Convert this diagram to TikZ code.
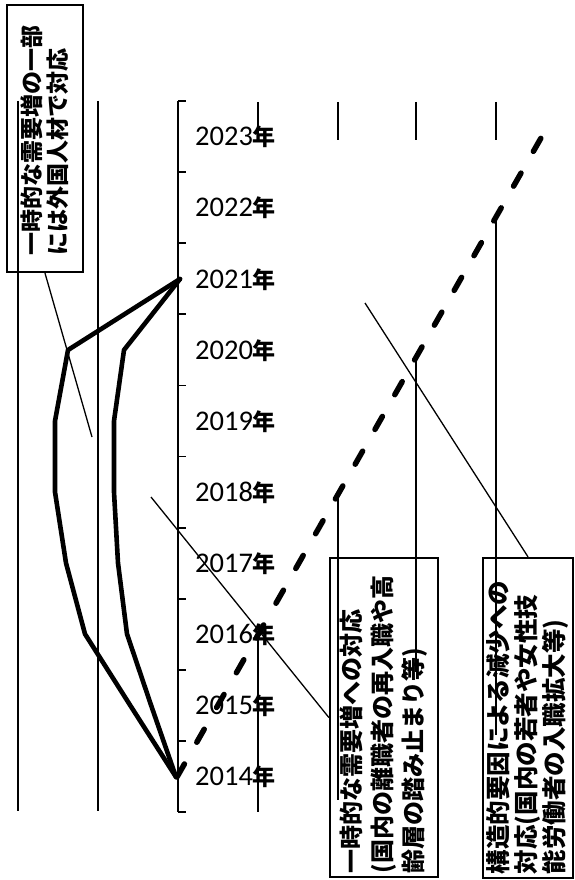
\documentclass[tikz,border=0pt]{standalone}
\usepackage{fontspec}
\setmainfont{Carlito}
\newfontfamily\cjk{Noto Sans CJK JP}
\begin{document}
\begin{tikzpicture}[x=1pt,y=-1pt,
	grid/.style={line width=1.8pt},
	thread/.style={line width=1.3pt},
	band/.style={line width=4.6pt,line join=round,line cap=round},
	memo/.style={draw,line width=2.3pt,rotate=90,align=left,inner ysep=0pt}]
	\useasboundingbox (0,0) rectangle (574,880);
	\draw[grid] (18,101) -- (18,811);
	\draw[grid] (98,101) -- (98,811);
	\draw[grid] (178,101) -- (178,812);
	\foreach \t in {0,...,10} \draw[grid] (178,{812-71.1*\t}) -- ++(8,0);
	\foreach \k [evaluate=\k as \yr using int(2014+\k)] in {0,...,9}
		\node[anchor=west,inner sep=0pt,font=\fontsize{28.5}{30}\selectfont] (y\yr) at (195,{777-71.1*\k}) {\yr{\cjk\bfseries\fontsize{23}{23}\selectfont 年}};
	\foreach \x in {258,338,416,496} \draw[grid] (\x,102) -- (\x,140);
	\coordinate (d0) at (177,777);
	\coordinate (d1) at (541,138);
	\draw[line width=5.5pt,line cap=round,dash pattern=on 15pt off 25pt] (d0) -- (d1);
	\foreach \x/\a/\b in {258/635/812,338/494/800,416/357/672,496/217/735} \draw[grid] (\x,\a) -- (\x,\b);
	\draw[band] plot coordinates {(176,777) (130,705) (85,634) (66,563) (55,492) (55,421) (68,350) (180,279)};
	\draw[band] plot coordinates {(176,777) (151,705) (127,634) (118,563) (114,492) (114,421) (124,350) (180,279)};
	\node[memo,minimum height=76pt,text width=233pt,inner xsep=17pt,font=\cjk\bfseries\fontsize{23}{26}\selectfont] (top) at (45,138.5) {一時的な需要増の一部\\には外国人材で対応};
	\node[memo,minimum height=108pt,text width=311pt,inner xsep=4pt,font=\cjk\bfseries\fontsize{24}{31}\selectfont] (shortterm) at (384,717.5) {一時的な需要増への対応\\(国内の離職者の再入職や高\\齢層の踏み止まり等)};
	\node[memo,minimum height=90pt,text width=312pt,inner xsep=4pt,font=\cjk\bfseries\fontsize{24.5}{28}\selectfont] (structural) at (528,718) {構造的要因による減少への\\対応(国内の若者や女性技\\能労働者の入職拡大等)};
	\coordinate (c1) at (92,437);
	\coordinate (c2) at (151,497);
	\coordinate (c3) at (365,303);
	\draw[thread] (top.west) -- (c1);
	\draw[thread] (c2) -- (shortterm.north);
	\draw[thread] (c3) -- (structural.east);
\end{tikzpicture}
\end{document}
